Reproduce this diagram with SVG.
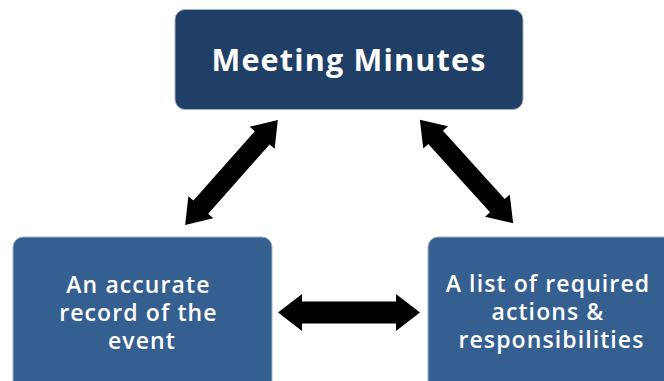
<svg xmlns="http://www.w3.org/2000/svg" width="664" height="381" viewBox="0 0 664 381">
  <defs>
    <style>
      .box-top { fill: #1f3f66; stroke: #9fb1c9; stroke-width: 1; }
      .box { fill: #365f91; stroke: #9fb1c9; stroke-width: 1; }
      .title { font-family: "Open Sans", Lato, sans-serif; font-weight: 700; font-size: 30.5px; letter-spacing: 1.2px; fill: #ffffff; text-anchor: middle; font-variant-ligatures: none; }
      .label { font-family: "Open Sans", Lato, sans-serif; font-weight: 600; font-size: 23px; letter-spacing: 1.1px; fill: #ffffff; text-anchor: middle; font-variant-ligatures: none; }
      .arrow { fill: #000000; }
    </style>
    <!-- double-headed block arrow, 142 long, centred on the origin -->
    <path id="dbl-arrow" d="M -71 0 L -47 -18.5 L -47 -11 L 47 -11 L 47 -18.5 L 71 0 L 47 18.5 L 47 11 L -47 11 L -47 18.5 Z"/>
  </defs>

  <rect width="664" height="381" fill="#ffffff"/>

  <g id="connectors">
    <use href="#dbl-arrow" class="arrow" transform="translate(231.5 172.5) rotate(-48.5) scale(0.985 0.9)"/>
    <use href="#dbl-arrow" class="arrow" transform="translate(466.5 171.5) rotate(47.9) scale(0.98 0.9)"/>
    <use href="#dbl-arrow" class="arrow" transform="translate(349 312.5)"/>
  </g>

  <g id="meeting-minutes">
    <rect class="box-top" x="175" y="9.5" width="348" height="100" rx="10"/>
    <text class="title" x="349" y="70.5">Meeting Minutes</text>
  </g>

  <g id="accurate-record">
    <rect class="box" x="13" y="237" width="259" height="170" rx="10"/>
    <text class="label" y="293">
      <tspan x="142">An accurate</tspan>
      <tspan x="142" dy="28">record of the</tspan>
      <tspan x="142" dy="28">event</tspan>
    </text>
  </g>

  <g id="required-actions">
    <rect class="box" x="428" y="237" width="260" height="170" rx="10"/>
    <text class="label" y="292">
      <tspan x="551.5">A list of required</tspan>
      <tspan x="551.5" dy="28">actions &amp;</tspan>
      <tspan x="551.5" dy="28">responsibilities</tspan>
    </text>
  </g>
</svg>
